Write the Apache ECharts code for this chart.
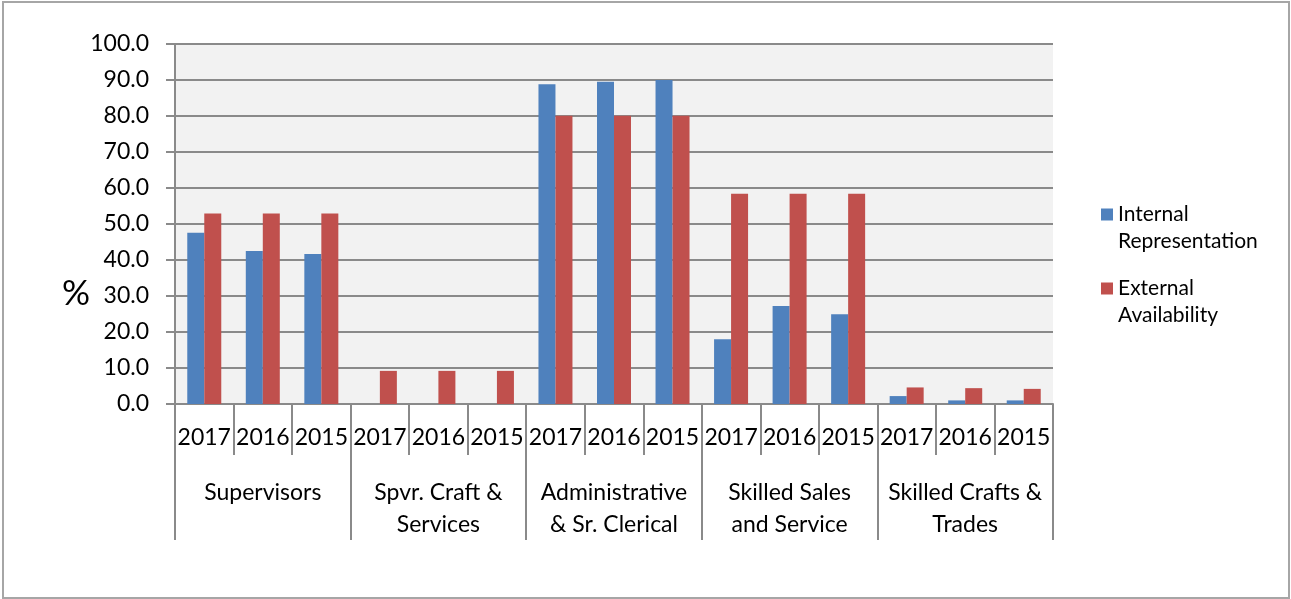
<!DOCTYPE html>
<html>
<head>
<meta charset="utf-8">
<script src="https://cdn.jsdelivr.net/npm/echarts@6/dist/echarts.min.js"></script>
<style>
  html, body { margin: 0; padding: 0; background: #fff; }
  #chart { width: 1291px; height: 599px; }
</style>
</head>
<body>
<div id="chart"></div>
<script>
// data
const groups = ['Supervisors', 'Spvr. Craft &\nServices', 'Administrative\n& Sr. Clerical', 'Skilled Sales\nand Service', 'Skilled Crafts &\nTrades'];
const years = ['2017', '2016', '2015'];
const yearLabels = groups.flatMap(() => years);
const internalRep = [47.6, 42.5, 41.7, 0, 0, 0, 88.8, 89.5, 90.0, 18.0, 27.2, 24.9, 2.2, 1.0, 1.0];
const externalAvail = [52.9, 52.9, 52.9, 9.2, 9.2, 9.2, 80.1, 80.1, 80.1, 58.4, 58.4, 58.4, 4.6, 4.4, 4.2];
const seriesNames = ['Internal Representation', 'External Availability'];

const FONT = 'Lato';
const chart = echarts.init(document.getElementById('chart'));
const option = {
  backgroundColor: '#fff',
  animation: false,
  grid: {
    left: 175,
    right: 238,
    top: 44,
    bottom: 195,
    show: true,
    backgroundColor: '#f2f2f2',
    borderWidth: 0
  },
  legend: {
    orient: 'vertical',
    left: 1096,
    top: 169,
    icon: 'rect',
    itemWidth: 12,
    itemHeight: 12,
    itemGap: -7,
    data: seriesNames,
    formatter: function (name) { return '\n' + name.replace(' ', '\n'); },
    textStyle: { fontFamily: FONT, fontSize: 21, lineHeight: 27, color: '#000' }
  },
  xAxis: [
    {
      type: 'category',
      data: yearLabels,
      position: 'bottom',
      offset: 0,
      axisLine: { show: true, lineStyle: { color: '#8a8a8a', width: 2 } },
      axisTick: { show: true, interval: 0, length: 51, lineStyle: { color: '#8a8a8a', width: 2 } },
      axisLabel: { interval: 0, margin: 22, fontFamily: FONT, fontSize: 23, lineHeight: 24, color: '#000' }
    },
    {
      type: 'category',
      data: groups,
      position: 'bottom',
      offset: 0,
      axisLine: { show: false },
      axisTick: { show: true, interval: 0, length: 136, lineStyle: { color: '#8a8a8a', width: 2 } },
      axisLabel: { interval: 0, margin: 73, fontFamily: FONT, fontSize: 23, lineHeight: 32, color: '#000' }
    }
  ],
  yAxis: {
    type: 'value',
    min: 0,
    max: 100,
    interval: 10,
    // "%" sits lower than the axis middle, pushed down with blank lines
    name: '\n\n\n\n\n%',
    nameLocation: 'middle',
    nameRotate: 0,
    nameGap: 85,
    nameMoveOverlap: false,
    nameTextStyle: { fontFamily: FONT, fontSize: 35, lineHeight: 28, color: '#000' },
    axisLine: { show: true, lineStyle: { color: '#8a8a8a', width: 2 } },
    axisTick: { show: true, length: 9, lineStyle: { color: '#8a8a8a', width: 2 } },
    axisLabel: {
      margin: 26,
      fontFamily: FONT,
      fontSize: 23,
      color: '#000',
      formatter: function (v) { return v.toFixed(1); }
    },
    splitLine: { lineStyle: { color: '#8a8a8a', width: 2 } }
  },
  series: [
    {
      name: seriesNames[0],
      type: 'bar',
      data: internalRep,
      barWidth: 17,
      barGap: '0%',
      itemStyle: { color: '#4f81bd' }
    },
    {
      name: seriesNames[1],
      type: 'bar',
      data: externalAvail,
      barWidth: 17,
      barGap: '0%',
      itemStyle: { color: '#c0504d' }
    }
  ],
  graphic: [
    {
      type: 'rect',
      shape: { x: 3, y: 2, width: 1286, height: 596 },
      style: { fill: 'none', stroke: '#a6a6a6', lineWidth: 2 },
      silent: true
    }
  ]
};
chart.setOption(option);
window.addEventListener('resize', function () {
  chart.resize();
});
</script>
</body>
</html>
